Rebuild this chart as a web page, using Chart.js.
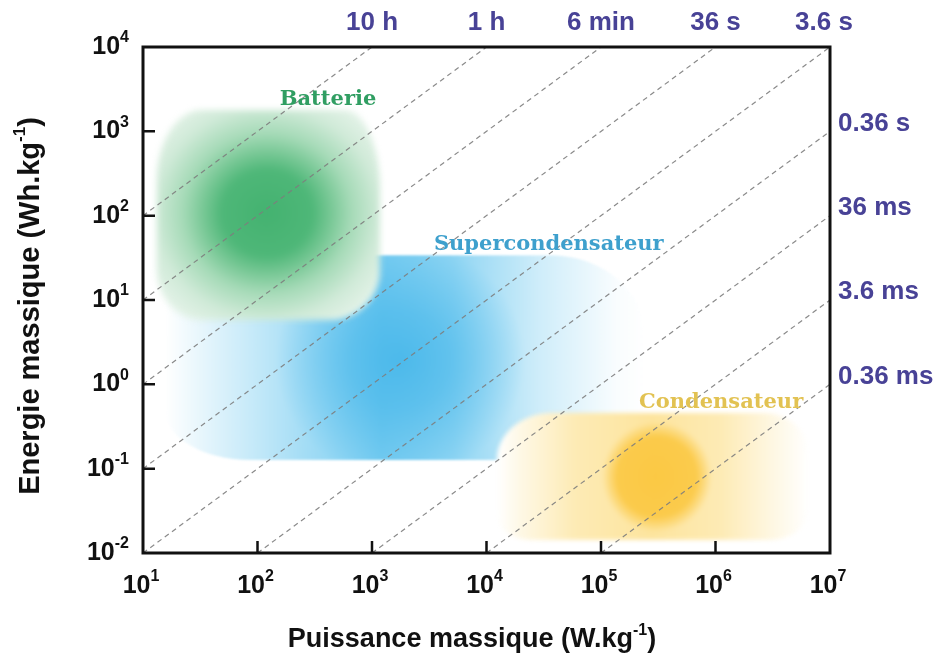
<!DOCTYPE html>
<html>
<head>
<meta charset="utf-8">
<script src="https://cdn.jsdelivr.net/npm/chart.js@4/dist/chart.umd.min.js"></script>
<style>
  html, body { margin: 0; padding: 0; background: #ffffff; }
  canvas { display: block; }
</style>
</head>
<body>
<canvas id="ragone" width="941" height="662"></canvas>
<script>
// Ragone plot: specific energy vs specific power, with iso-discharge-time lines

// axis decades
const powerTicks = [1e1, 1e2, 1e3, 1e4, 1e5, 1e6, 1e7];        // W/kg
const energyTicks = [1e-2, 1e-1, 1e0, 1e1, 1e2, 1e3, 1e4];     // Wh/kg

// iso-time lines E = t·P, endpoints (W/kg, Wh/kg)
const timeLabels = ['10 h', '1 h', '6 min', '36 s', '3.6 s', '0.36 s', '36 ms', '3.6 ms', '0.36 ms'];
const lineStartP = [10, 10, 10, 10, 10, 1e2, 1e3, 1e4, 1e5];
const lineStartE = [100, 10, 1, 0.1, 0.01, 0.01, 0.01, 0.01, 0.01];
const lineEndP = [1e3, 1e4, 1e5, 1e6, 1e7, 1e7, 1e7, 1e7, 1e7];
const lineEndE = [1e4, 1e4, 1e4, 1e4, 1e4, 1e3, 100, 10, 1];

// technology domains, in drawing order
const regionNames = ['Supercondensateur', 'Batterie', 'Condensateur'];
const regionPMin = [15.6, 13.2, 1.23e4];
const regionPMax = [2.42e5, 1175, 6.5e6];
const regionEMin = [0.127, 5.8, 0.0143];
const regionEMax = [34, 1790, 0.457];
const regionPCore = [1760, 121, 3.08e5];
const regionECore = [1.94, 107, 0.08];
const regionLabelP = [3.5e4, 413, 1.12e6];
const regionLabelE = [46, 2350, 0.6];

// look of each domain: corner radii [tl, tr, br, bl] as [rx, ry], fades, core and softness
const regionStyles = [
  {
    corners: [[60, 60], [95, 80], [40, 40], [85, 50]],
    base: '95,195,238',
    hStops: [[0, 0], [0.1, 0.2], [0.28, 0.55], [0.45, 0.85], [0.6, 0.7], [0.78, 0.3], [0.94, 0.04], [1, 0]],
    coreR: [125, 120],
    coreStops: [[0, 'rgba(68,182,234,0.85)'], [0.4, 'rgba(68,182,234,0.6)'], [1, 'rgba(68,182,234,0)']],
    blur: 1,
    text: 'rgb(62,160,205)'
  },
  {
    corners: [[45, 70], [35, 80], [50, 50], [45, 50]],
    base: null,
    hStops: null,
    coreR: [150, 142],
    coreStops: [[0, 'rgb(68,178,112)'], [0.3, 'rgb(78,183,120)'], [0.42, 'rgb(118,199,148)'],
                [0.56, 'rgb(165,218,183)'], [0.75, 'rgb(208,234,216)'], [1, 'rgb(238,247,240)']],
    blur: 3,
    text: 'rgb(48,158,98)'
  },
  {
    corners: [[55, 47], [45, 40], [40, 30], [35, 25]],
    base: '252,218,120',
    hStops: [[0, 0], [0.08, 0.2], [0.25, 0.55], [0.5, 0.72], [0.72, 0.55], [0.88, 0.22], [1, 0]],
    coreR: [55, 55],
    coreStops: [[0, 'rgba(251,198,60,0.92)'], [0.72, 'rgba(251,198,60,0.85)'], [1, 'rgba(251,198,60,0)']],
    blur: 2,
    text: 'rgb(226,194,82)'
  }
];

const timeColor = 'rgb(72,66,150)';
const sansBold = (s) => `bold ${s}px "Liberation Sans", Arial, sans-serif`;

function roundedPath(x0, y0, x1, y1, c) {
  const k = 0.5523;
  const [tl, tr, br, bl] = c;
  const p = new Path2D();
  p.moveTo(x0 + tl[0], y0);
  p.lineTo(x1 - tr[0], y0);
  p.bezierCurveTo(x1 - tr[0] + k * tr[0], y0, x1, y0 + tr[1] - k * tr[1], x1, y0 + tr[1]);
  p.lineTo(x1, y1 - br[1]);
  p.bezierCurveTo(x1, y1 - br[1] + k * br[1], x1 - br[0] + k * br[0], y1, x1 - br[0], y1);
  p.lineTo(x0 + bl[0], y1);
  p.bezierCurveTo(x0 + bl[0] - k * bl[0], y1, x0, y1 - bl[1] + k * bl[1], x0, y1 - bl[1]);
  p.lineTo(x0, y0 + tl[1]);
  p.bezierCurveTo(x0, y0 + tl[1] - k * tl[1], x0 + tl[0] - k * tl[0], y0, x0 + tl[0], y0);
  p.closePath();
  return p;
}

// text with raised exponent parts: parts = [[text, isSup], ...]
function drawSup(ctx, parts, x, y, size, supSize, align, color) {
  const widths = parts.map(([t, s]) => { ctx.font = sansBold(s ? supSize : size); return ctx.measureText(t).width; });
  const total = widths.reduce((a, b) => a + b, 0);
  let sx = align === 'center' ? x - total / 2 : align === 'right' ? x - total : x;
  ctx.fillStyle = color;
  ctx.textAlign = 'left';
  ctx.textBaseline = 'middle';
  parts.forEach(([t, s], i) => {
    ctx.font = sansBold(s ? supSize : size);
    ctx.fillText(t, sx, s ? y - size * 0.36 : y);
    sx += widths[i];
  });
}

const ragonePlugin = {
  id: 'ragone',
  beforeDraw(chart) {
    const ctx = chart.ctx;
    ctx.save();
    ctx.fillStyle = '#ffffff';
    ctx.fillRect(0, 0, chart.width, chart.height);
    ctx.restore();
  },
  beforeDatasetsDraw(chart) {
    const ctx = chart.ctx;
    const xs = chart.scales.x, ys = chart.scales.y;
    regionNames.forEach((name, i) => {
      const st = regionStyles[i];
      const x0 = xs.getPixelForValue(regionPMin[i]), x1 = xs.getPixelForValue(regionPMax[i]);
      const y0 = ys.getPixelForValue(regionEMax[i]), y1 = ys.getPixelForValue(regionEMin[i]);
      const cx = xs.getPixelForValue(regionPCore[i]), cy = ys.getPixelForValue(regionECore[i]);
      const path = roundedPath(x0, y0, x1, y1, st.corners);

      // paint the domain off-screen, then composite it with a soft edge
      const off = document.createElement('canvas');
      off.width = chart.width;
      off.height = chart.height;
      const o = off.getContext('2d');
      o.save();
      o.clip(path);
      o.fillStyle = '#ffffff';
      o.fillRect(x0, y0, x1 - x0, y1 - y0);
      if (st.hStops) {
        const g = o.createLinearGradient(x0, 0, x1, 0);
        st.hStops.forEach(([p, a]) => g.addColorStop(p, `rgba(${st.base},${a})`));
        o.fillStyle = g;
        o.fillRect(x0, y0, x1 - x0, y1 - y0);
      }
      o.translate(cx, cy);
      o.scale(1, st.coreR[1] / st.coreR[0]);
      const rg = o.createRadialGradient(0, 0, 0, 0, 0, st.coreR[0]);
      st.coreStops.forEach(([p, c]) => rg.addColorStop(p, c));
      o.fillStyle = rg;
      o.fillRect(-2000, -2000, 4000, 4000);
      o.restore();

      ctx.save();
      ctx.filter = `blur(${st.blur}px)`;
      ctx.drawImage(off, 0, 0);
      ctx.restore();
    });
  },
  afterDatasetsDraw(chart) {
    const ctx = chart.ctx;
    const xs = chart.scales.x, ys = chart.scales.y;
    const a = chart.chartArea;

    // domain names
    regionNames.forEach((name, i) => {
      ctx.save();
      ctx.font = 'bold 21px "DejaVu Serif", "Liberation Serif", serif';
      ctx.fillStyle = regionStyles[i].text;
      ctx.textAlign = 'center';
      ctx.textBaseline = 'middle';
      ctx.fillText(name, xs.getPixelForValue(regionLabelP[i]), ys.getPixelForValue(regionLabelE[i]));
      ctx.restore();
    });

    // frame
    ctx.save();
    ctx.strokeStyle = '#111111';
    ctx.lineWidth = 3;
    ctx.strokeRect(a.left, a.top, a.right - a.left, a.bottom - a.top);

    // inward tick marks
    ctx.lineWidth = 2.5;
    ctx.beginPath();
    powerTicks.slice(1, -1).forEach(v => {
      const x = xs.getPixelForValue(v);
      ctx.moveTo(x, a.bottom); ctx.lineTo(x, a.bottom - 12);
    });
    energyTicks.slice(1, -1).forEach(v => {
      const y = ys.getPixelForValue(v);
      ctx.moveTo(a.left, y); ctx.lineTo(a.left + 12, y);
    });
    ctx.stroke();

    // tick labels 10^n
    powerTicks.forEach(v => {
      const e = String(Math.round(Math.log10(v)));
      drawSup(ctx, [['10', false], [e, true]], xs.getPixelForValue(v) - 2, a.bottom + 33, 25, 16, 'center', '#111111');
    });
    energyTicks.forEach(v => {
      const e = String(Math.round(Math.log10(v)));
      drawSup(ctx, [['10', false], [e, true]], a.left - 14, ys.getPixelForValue(v), 25, 16, 'right', '#111111');
    });

    // axis titles
    drawSup(ctx, [['Puissance massique (W.kg', false], ['-1', true], [')', false]], 472, 640, 27, 16, 'center', '#111111');
    ctx.save();
    ctx.translate(31, 306);
    ctx.rotate(-Math.PI / 2);
    drawSup(ctx, [['Energie massique (Wh.kg', false], ['-1', true], [')', false]], 0, 0, 29, 17, 'center', '#111111');
    ctx.restore();

    // discharge-time labels at the ends of the iso-time lines
    ctx.font = sansBold(26);
    ctx.fillStyle = timeColor;
    ctx.textBaseline = 'middle';
    timeLabels.forEach((lab, i) => {
      const px = xs.getPixelForValue(lineEndP[i]);
      const py = ys.getPixelForValue(lineEndE[i]);
      if (lineEndE[i] >= 1e4) {
        ctx.textAlign = 'center';
        ctx.fillText(lab, px - (lineEndP[i] >= 1e7 ? 6 : 0), a.top - 24);
      } else {
        ctx.textAlign = 'left';
        ctx.fillText(lab, a.right + 8, py - 8);
      }
    });
    ctx.restore();
  }
};

const datasets = timeLabels.map((lab, i) => ({
  label: lab,
  data: [{ x: lineStartP[i], y: lineStartE[i] }, { x: lineEndP[i], y: lineEndE[i] }],
  showLine: true,
  pointRadius: 0,
  borderColor: 'rgba(125,125,125,0.9)',
  borderWidth: 1.2,
  borderDash: [5, 4],
  fill: false
}));

new Chart(document.getElementById('ragone'), {
  type: 'scatter',
  data: { datasets },
  options: {
    responsive: false,
    animation: false,
    events: [],
    layout: { padding: { left: 143, right: 111, top: 47, bottom: 109 } },
    plugins: { legend: { display: false }, tooltip: { enabled: false } },
    scales: {
      x: {
        type: 'logarithmic', min: 10, max: 1e7,
        grid: { display: false }, border: { display: false }, ticks: { display: false },
        afterFit(s) { s.height = 0; }
      },
      y: {
        type: 'logarithmic', min: 0.01, max: 1e4,
        grid: { display: false }, border: { display: false }, ticks: { display: false },
        afterFit(s) { s.width = 0; }
      }
    }
  },
  plugins: [ragonePlugin]
});
</script>
</body>
</html>
